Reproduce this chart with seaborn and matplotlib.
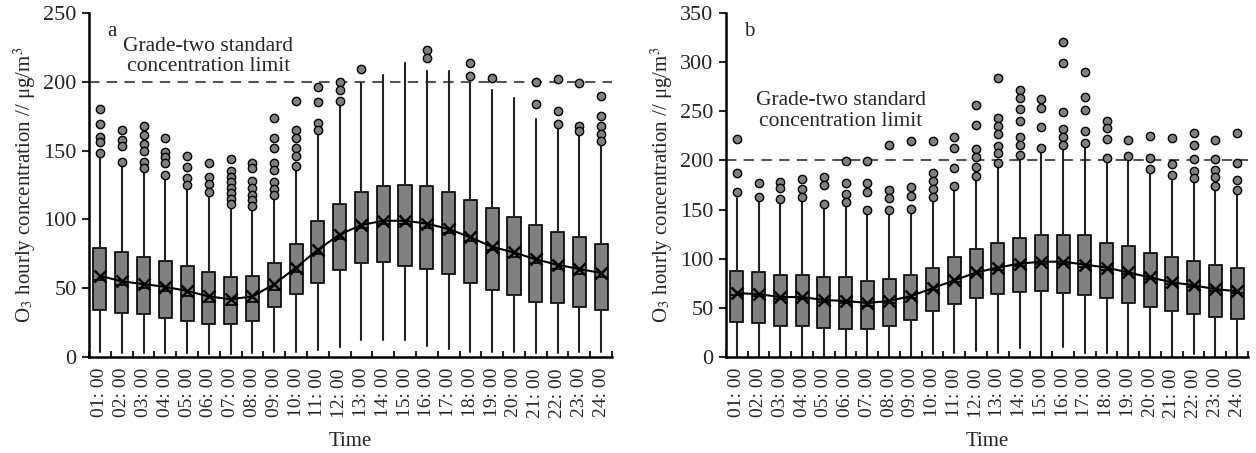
import numpy as np
import pandas as pd
import matplotlib
matplotlib.use("Agg")
import matplotlib.pyplot as plt
import seaborn as sns

# ---------- data (ug/m3) ----------
hours = ["%02d: 00" % h for h in range(1, 25)]

# panel a
a_low = [4, 3, 3, 3, 3, 2, 2, 3, 4, 4, 5, 7, 12, 12, 12, 8, 6, 4, 4, 4, 3, 3, 4, 4]
a_q1 = [34, 32, 31, 28, 26, 24, 24, 26, 36, 46, 54, 63, 68, 69, 66, 64, 60, 54, 49, 45, 40, 39, 36, 34]
a_med = [56, 52, 50, 48, 44, 40, 38, 40, 49, 62, 75, 86, 94, 97, 97, 94, 90, 84, 78, 73, 68, 64, 60, 58]
a_q3 = [79, 76, 73, 70, 66, 62, 58, 59, 68, 82, 99, 111, 120, 124, 125, 124, 120, 114, 108, 102, 96, 91, 87, 82]
a_high = [147, 140, 134, 130, 124, 119, 108, 107, 115, 137, 163, 185, 199, 205, 214, 208, 208, 199, 194, 188,
          173, 169, 163, 156]
a_mean = [59, 55, 53, 51, 48, 44, 42, 44, 53, 65, 78, 89, 96, 99, 99, 97, 93, 87, 80, 76, 71, 67, 64, 61]
a_out = [[180, 169, 160, 156, 148], [165, 158, 153, 142], [168, 161, 155, 150, 142, 137],
         [159, 149, 145, 141, 132], [146, 138, 130, 125], [141, 131, 126, 120],
         [144, 135, 131, 127, 123, 119, 115, 111], [141, 137, 128, 123, 118, 114, 110],
         [174, 159, 152, 141, 136, 127, 122, 118], [186, 165, 159, 152, 146, 139],
         [196, 185, 170, 165], [200, 194, 186], [209], [], [], [223, 217], [], [214, 204], [203], [],
         [200, 184], [202, 179, 169], [199, 168, 164], [190, 175, 168, 162, 157]]

# panel b
b_low = [0, 0, 0, 0, 0, 0, 0, 0, 0, 3, 4, 6, 4, 9, 0, 10, 4, 4, 0, 0, 0, 3, 0, 0]
b_q1 = [36, 35, 32, 32, 30, 29, 29, 32, 38, 47, 54, 60, 64, 66, 67, 65, 63, 60, 55, 51, 47, 44, 41, 39]
b_med = [63, 62, 59, 59, 56, 55, 52, 55, 60, 68, 76, 84, 89, 93, 95, 95, 92, 89, 84, 79, 74, 71, 67, 65]
b_q3 = [88, 86, 83, 83, 81, 81, 77, 79, 83, 91, 102, 110, 116, 121, 124, 124, 124, 116, 113, 106, 102, 98, 94, 91]
b_high = [162, 161, 159, 161, 155, 156, 149, 149, 149, 161, 172, 181, 195, 205, 212, 212, 215, 200, 203, 189,
          179, 181, 172, 166]
b_mean = [65, 64, 61, 61, 58, 57, 55, 57, 62, 70, 78, 86, 91, 95, 97, 97, 94, 91, 86, 81, 76, 73, 69, 67]
b_out = [[222, 187, 168], [177, 163], [178, 172, 161], [181, 171, 163], [183, 175, 156],
         [199, 177, 166, 158], [199, 177, 168, 150], [216, 170, 162, 150], [220, 173, 164, 151],
         [220, 187, 179, 171, 163], [224, 213, 192, 174], [256, 236, 212, 203, 193, 184],
         [284, 243, 235, 227, 215, 208, 197], [272, 264, 252, 240, 224, 216, 206],
         [263, 253, 234, 213], [320, 299, 249, 232, 224, 216], [290, 265, 251, 230, 218],
         [240, 233, 222, 202], [221, 205], [225, 202, 191], [223, 196, 185],
         [228, 216, 201, 189, 182], [221, 201, 190, 183, 174], [228, 197, 180, 170]]

limit = 200


def draw_panel(ax, low, q1, med, q3, high, mean, fliers, ymax, letter, note_x, note_y):
    n = len(hours)
    stats = [{'whislo': low[i], 'q1': q1[i], 'med': med[i], 'q3': q3[i], 'whishi': high[i],
              'fliers': fliers[i]} for i in range(n)]

    ax.axhline(limit, color='#555555', ls=(0, (5, 3.5)), lw=1.5, zorder=1)

    ax.bxp(stats, positions=range(n), widths=0.6, patch_artist=True, showcaps=False,
           boxprops=dict(facecolor='#808080', edgecolor='black', linewidth=1.2),
           medianprops=dict(color='black', linewidth=1.2),
           whiskerprops=dict(color='#222222', linewidth=1.5),
           flierprops=dict(marker='o', markerfacecolor='#808080', markeredgecolor='black',
                           markersize=6, markeredgewidth=1.0))

    df = pd.DataFrame({'pos': np.arange(n), 'mean': mean})
    sns.lineplot(data=df, x='pos', y='mean', ax=ax, color='black', lw=1.5, marker='x',
                 markersize=9, markeredgecolor='black', markeredgewidth=1.8, zorder=5)

    ax.set_xlim(-0.5, n - 0.5)
    ax.set_ylim(0, ymax)
    ax.set_yticks(np.arange(0, ymax + 1, 50))
    ax.set_xticks(np.arange(n))
    ax.set_xticklabels(hours, rotation=90)
    ax.set_xticks(np.arange(n + 1) - 0.5, minor=True)
    ax.tick_params(axis='x', which='major', length=0, pad=8, labelsize=14)
    ax.tick_params(axis='x', which='minor', direction='in', length=4, width=1.5)
    ax.tick_params(axis='y', direction='out', length=5, width=1.5, labelsize=16, pad=4)

    for s in ['top', 'right']:
        ax.spines[s].set_visible(False)
    for s in ['left', 'bottom']:
        ax.spines[s].set_linewidth(1.8)
        ax.spines[s].set_color('black')

    ax.set_xlabel('Time', fontsize=15, labelpad=10)
    ax.set_ylabel(r'O$_3$ hourly concentration // μg/m$^3$', fontsize=15, labelpad=4)

    ax.text(0.035, 0.975, letter, transform=ax.transAxes, fontsize=15, va='top', ha='left')
    ax.text(note_x, note_y, 'Grade-two standard\nconcentration limit', transform=ax.transAxes,
            fontsize=15.5, ha='center', va='top', linespacing=1.1)


sns.set_theme(style='ticks')
plt.rcParams['font.family'] = ['Liberation Serif', 'DejaVu Serif']
plt.rcParams['mathtext.fontset'] = 'stix'

fig = plt.figure(figsize=(12.56, 4.53), dpi=100)
ax_a = fig.add_axes([0.0709, 0.2119, 0.4164, 0.7594])
ax_b = fig.add_axes([0.578, 0.2119, 0.4156, 0.7594])

draw_panel(ax_a, a_low, a_q1, a_med, a_q3, a_high, a_mean, a_out, 250, 'a', 0.228, 0.93)
draw_panel(ax_b, b_low, b_q1, b_med, b_q3, b_high, b_mean, b_out, 350, 'b', 0.22, 0.772)

fig.savefig('out.png', dpi=100)
